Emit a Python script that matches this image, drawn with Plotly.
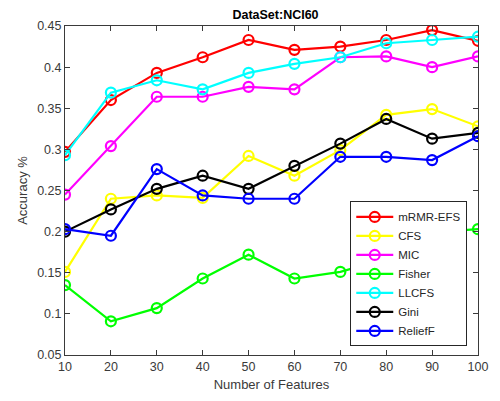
import plotly.graph_objects as go

features = [10, 20, 30, 40, 50, 60, 70, 80, 90, 100]

mrmr_efs = [0.297, 0.360, 0.393, 0.412, 0.433, 0.421, 0.425, 0.433, 0.445, 0.432]
cfs      = [0.151, 0.240, 0.244, 0.241, 0.292, 0.268, 0.299, 0.342, 0.349, 0.328]
mic      = [0.245, 0.304, 0.364, 0.364, 0.376, 0.373, 0.412, 0.413, 0.400, 0.413]
fisher   = [0.135, 0.091, 0.107, 0.143, 0.172, 0.143, 0.151, 0.167, 0.199, 0.203]
llcfs    = [0.293, 0.369, 0.384, 0.373, 0.393, 0.404, 0.412, 0.429, 0.433, 0.437]
gini     = [0.200, 0.227, 0.252, 0.268, 0.252, 0.280, 0.307, 0.337, 0.313, 0.320]
relieff  = [0.203, 0.195, 0.276, 0.244, 0.240, 0.240, 0.291, 0.291, 0.287, 0.316]

series_names = ["mRMR-EFS", "CFS", "MIC", "Fisher", "LLCFS", "Gini", "ReliefF"]
series_vals = [mrmr_efs, cfs, mic, fisher, llcfs, gini, relieff]
series_colors = ["#ff0000", "#ffff00", "#ff00ff", "#00ff00", "#00ffff", "#000000", "#0000ff"]

y_tickvals = [0.05, 0.1, 0.15, 0.2, 0.25, 0.3, 0.35, 0.4, 0.45]
y_ticktext = ["0.05", "0.1", "0.15", "0.2", "0.25", "0.3", "0.35", "0.4", "0.45"]

FONT = "Liberation Sans, Arial, sans-serif"
AX = "#3a3a3a"

fig = go.Figure()
for name, vals, col in zip(series_names, series_vals, series_colors):
    fig.add_trace(go.Scatter(
        x=features, y=vals, name=name, mode="lines+markers",
        line=dict(color=col, width=2.2),
        marker=dict(symbol="circle-open", size=10, color=col, line=dict(width=2.2, color=col)),
    ))

fig.update_layout(
    width=500, height=401,
    margin=dict(l=65, r=14, t=26, b=45),
    paper_bgcolor="white", plot_bgcolor="white",
    font=dict(family=FONT, size=12.5, color=AX),
    title=dict(text="<b>DataSet:NCI60</b>", x=0.551, xanchor="center", y=0.975, yanchor="top",
               font=dict(family=FONT, size=12.5, color="#000")),
    showlegend=True,
    legend=dict(x=0.974, y=0.026, xanchor="right", yanchor="bottom",
                bgcolor="white", bordercolor="#262626", borderwidth=1,
                font=dict(family=FONT, size=11.5, color="#262626"),
                itemwidth=37, tracegroupgap=0),
)
fig.update_xaxes(
    range=[10, 100], tickvals=features, ticks="inside", ticklen=5, tickcolor=AX,
    showline=True, linecolor=AX, linewidth=1, mirror="ticks", showgrid=False, zeroline=False,
    title=dict(text="Number of Features", standoff=6, font=dict(size=13, color=AX)),
    tickfont=dict(size=12.5, color=AX),
)
fig.update_yaxes(
    range=[0.05, 0.45], tickvals=y_tickvals, ticktext=y_ticktext, ticks="inside", ticklen=5, tickcolor=AX,
    showline=True, linecolor=AX, linewidth=1, mirror="ticks", showgrid=False, zeroline=False,
    title=dict(text="Accuracy %", standoff=6, font=dict(size=13, color=AX)),
    tickfont=dict(size=12.5, color=AX),
)

fig.write_html("out.html", config={"displayModeBar": False},
               post_script="document.body.style.margin='0';")
